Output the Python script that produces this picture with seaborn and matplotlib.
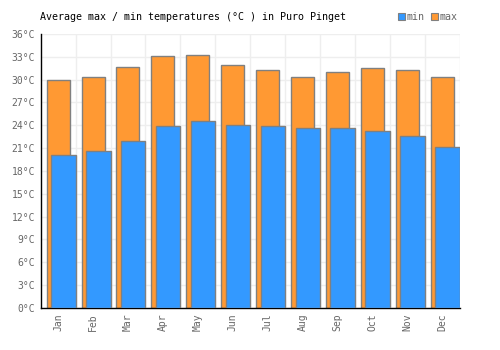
import matplotlib
matplotlib.use("Agg")
import matplotlib.pyplot as plt
import seaborn as sns
import pandas as pd
from matplotlib.patches import Rectangle

months = ["Jan", "Feb", "Mar", "Apr", "May", "Jun", "Jul", "Aug", "Sep", "Oct", "Nov", "Dec"]
max_temps = [29.9, 30.4, 31.6, 33.1, 33.3, 31.9, 31.2, 30.4, 31.0, 31.5, 31.2, 30.4]
min_temps = [20.1, 20.6, 22.0, 23.9, 24.5, 24.1, 23.9, 23.6, 23.6, 23.2, 22.6, 21.2]
yticks = list(range(0, 37, 3))

sns.set_style("white")
plt.rcParams['font.family'] = ['DejaVu Sans Mono', 'DejaVu Sans']

df = pd.DataFrame({"month": months, "max": max_temps, "min": min_temps})

fig = plt.figure(figsize=(5, 3.5), dpi=100)
ax = fig.add_axes([0.0814, 0.12, 0.8376, 0.783])

edge = "#808080"
sns.barplot(data=df, x="month", y="max", color="#ff9933", width=0.66,
            edgecolor=edge, linewidth=1.0, saturation=1, ax=ax, zorder=2)
n_max = len(ax.patches)
sns.barplot(data=df, x="month", y="min", color="#3399ff", width=0.70,
            edgecolor=edge, linewidth=1.0, saturation=1, ax=ax, zorder=3)
for p in ax.patches[n_max:]:
    p.set_x(p.get_x() + 0.152)

ax.set_xlim(-0.5, 11.5)
ax.set_ylim(0, 36)
ax.set_yticks(yticks)
ax.set_yticklabels([f"{v}°C" for v in yticks])
ax.set_xlabel("")
ax.set_ylabel("")

# grid
ax.set_xticks([i + 0.5 for i in range(12)], minor=True)
ax.grid(True, axis="y", color="#eeeeee", linewidth=1, zorder=0)
ax.grid(True, axis="x", which="minor", color="#eeeeee", linewidth=1, zorder=0)
ax.set_axisbelow(True)

for s in ["top", "right"]:
    ax.spines[s].set_visible(False)
for s in ["left", "bottom"]:
    ax.spines[s].set_color("black")
    ax.spines[s].set_linewidth(1)

ax.tick_params(axis="x", which="both", length=0, labelsize=7, labelcolor="#666666", rotation=90, pad=4)
ax.tick_params(axis="y", length=0, labelsize=7, labelcolor="#666666", pad=4)

fig.text(0.08, 0.951, "Average max / min temperatures (°C ) in Puro Pinget",
         fontsize=7.2, color="black", va="center", ha="left")

# legend
handles = [Rectangle((0, 0), 1, 1, facecolor="#3399ff", edgecolor=edge, linewidth=0.8),
           Rectangle((0, 0), 1, 1, facecolor="#ff9933", edgecolor=edge, linewidth=0.8)]
fig.legend(handles, ["min", "max"], loc="center right", bbox_to_anchor=(0.915, 0.951),
           ncol=2, frameon=False, fontsize=7.2, handlelength=0.7, handleheight=0.7,
           handletextpad=0.2, columnspacing=0.6, labelcolor="#666666", borderaxespad=0, borderpad=0)

fig.savefig("out.png", dpi=100)
